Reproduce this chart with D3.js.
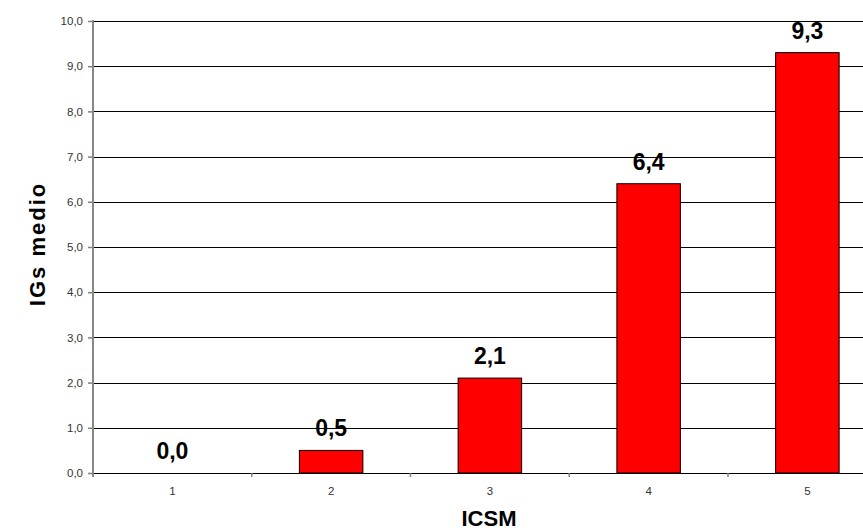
<!DOCTYPE html>
<html>
<head>
<meta charset="utf-8">
<script src="https://cdn.jsdelivr.net/npm/d3@7"></script>
<style>
  html, body { margin: 0; padding: 0; background: #fff; }
  svg { display: block; }
</style>
</head>
<body>
<svg id="chart" width="863" height="531"></svg>
<script>
// ICSM classes and mean IGs per class
const categories = ["1", "2", "3", "4", "5"];
const values = [0.0, 0.5, 2.1, 6.4, 9.3];
const yTicks = [0, 1, 2, 3, 4, 5, 6, 7, 8, 9, 10];
const xTitle = "ICSM";
const yTitle = "IGs medio";

const svg = d3.select("#chart");
const margin = { left: 93, top: 21 };
const baseY = 473;
const slotWidth = 158.75;
const plotRight = margin.left + slotWidth * categories.length;

const comma = v => d3.format(".1f")(v).replace(".", ",");

// one slot per category; bars take the middle 40% of each slot
const x = d3.scaleBand().domain(categories).range([margin.left, plotRight]).padding(0);
const y = d3.scaleLinear().domain([0, 10]).range([baseY, margin.top]);
const barW = x.bandwidth() * 0.4;

// horizontal gridlines
svg.append("g")
  .selectAll("line")
  .data(yTicks)
  .join("line")
  .attr("x1", margin.left)
  .attr("x2", plotRight)
  .attr("y1", d => Math.round(y(d)) + 0.5)
  .attr("y2", d => Math.round(y(d)) + 0.5)
  .attr("stroke", "#000")
  .attr("stroke-width", 1);

// bars
svg.append("g")
  .selectAll("rect")
  .data(values)
  .join("rect")
  .attr("x", (d, i) => x(categories[i]) + (x.bandwidth() - barW) / 2)
  .attr("y", d => y(d))
  .attr("width", barW)
  .attr("height", d => y(0) - y(d))
  .attr("fill", "#ff0000")
  .attr("stroke", "#000")
  .attr("stroke-width", 1);

// value labels above bars
svg.append("g")
  .selectAll("text")
  .data(values)
  .join("text")
  .attr("x", (d, i) => x(categories[i]) + x.bandwidth() / 2)
  .attr("y", d => y(d) - 14)
  .attr("text-anchor", "middle")
  .attr("font-family", "Liberation Sans, Arial, sans-serif")
  .attr("font-weight", "bold")
  .attr("font-size", 23)
  .attr("fill", "#000")
  .text(d => comma(d));

// y axis
const yAxis = d3.axisLeft(y)
  .tickValues(yTicks)
  .tickSize(5)
  .tickPadding(5)
  .tickFormat(comma);
const gy = svg.append("g")
  .attr("transform", `translate(${margin.left},0)`)
  .call(yAxis);
gy.select(".domain").remove();
gy.selectAll(".tick line").attr("stroke", "#808080").attr("stroke-width", 1.5);
gy.selectAll(".tick text")
  .attr("font-family", "Liberation Sans, Arial, sans-serif")
  .attr("font-size", 11.5)
  .attr("fill", "#333");
gy.append("line")
  .attr("x1", 0).attr("x2", 0)
  .attr("y1", margin.top - 1)
  .attr("y2", baseY + 4)
  .attr("stroke", "#888")
  .attr("stroke-width", 2);

// x axis: boundary ticks between categories, labels at slot centres
const xb = d3.scaleLinear().domain([0, categories.length]).range([margin.left, plotRight]);
const gx = svg.append("g");
gx.selectAll("line")
  .data(d3.range(1, categories.length + 1))
  .join("line")
  .attr("x1", d => xb(d))
  .attr("x2", d => xb(d))
  .attr("y1", baseY)
  .attr("y2", baseY + 4)
  .attr("stroke", "#808080")
  .attr("stroke-width", 1.5);
gx.selectAll("text")
  .data(categories)
  .join("text")
  .attr("x", d => x(d) + x.bandwidth() / 2)
  .attr("y", 495)
  .attr("text-anchor", "middle")
  .attr("font-family", "Liberation Sans, Arial, sans-serif")
  .attr("font-size", 11.5)
  .attr("fill", "#333")
  .text(d => d);

// axis titles
svg.append("text")
  .attr("x", 489)
  .attr("y", 526)
  .attr("text-anchor", "middle")
  .attr("font-family", "Liberation Sans, Arial, sans-serif")
  .attr("font-weight", "bold")
  .attr("font-size", 22)
  .attr("fill", "#000")
  .text(xTitle);

svg.append("text")
  .attr("transform", "translate(45,244) rotate(-90)")
  .attr("text-anchor", "middle")
  .attr("font-family", "Liberation Sans, Arial, sans-serif")
  .attr("font-weight", "bold")
  .attr("font-size", 22)
  .attr("letter-spacing", 2)
  .attr("fill", "#000")
  .text(yTitle);
</script>
</body>
</html>
